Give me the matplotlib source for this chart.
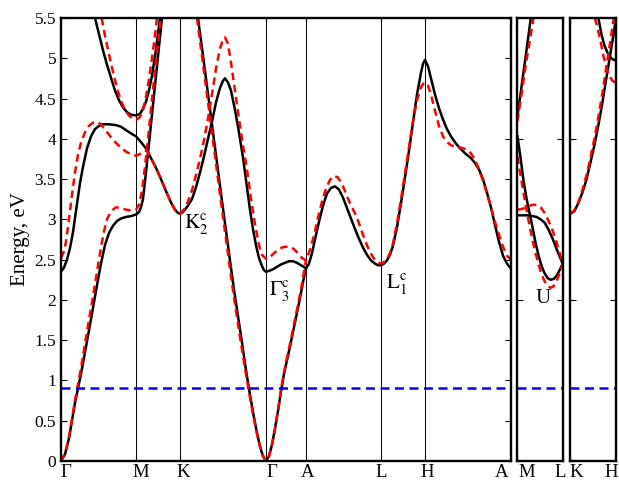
import numpy as np
import matplotlib.pyplot as plt

plt.rcParams['font.family'] = ['Liberation Serif', 'DejaVu Serif']
plt.rcParams['mathtext.fontset'] = 'stix'

# high-symmetry points along the main path (Gamma-M-K-Gamma-A-L-H-A)
sym_k = [0, 75, 119, 205, 245, 320, 364, 450]
sym_labels = ['Γ', 'M', 'K', 'Γ', 'A', 'L', 'H', 'A']
sym_label_k = [5, 80, 122, 211, 247, 320.5, 366, 441]
fermi = 0.9
yticks = [0, 0.5, 1, 1.5, 2, 2.5, 3, 3.5, 4, 4.5, 5, 5.5]
ytick_labels = ['0', '0.5', '1', '1.5', '2', '2.5', '3', '3.5', '4', '4.5', '5', '5.5']

# ---- main panel, black (solid) bands ----
blk_low_k = [0, 4, 8, 11, 14, 17, 20, 24, 28, 32, 36, 40, 44, 48, 52, 56, 60, 65, 70, 75,
             78, 80, 82, 85, 88, 91, 94, 97, 100, 101]
blk_low_e = [0, 0.08, 0.28, 0.5, 0.72, 0.9, 1.08, 1.35, 1.62, 1.9, 2.18, 2.45, 2.68, 2.83, 2.92,
             2.98, 3.01, 3.03, 3.04, 3.06, 3.09, 3.15, 3.25, 3.58, 3.94, 4.3, 4.66, 5.02, 5.38, 5.5]

blk_up_k = [34, 38, 42, 46, 50, 54, 58, 62, 66, 70, 75, 79, 82, 85, 88, 91, 94, 97, 99]
blk_up_e = [5.5, 5.3, 5.1, 4.92, 4.76, 4.6, 4.48, 4.39, 4.33, 4.3, 4.29, 4.31, 4.37, 4.46, 4.6,
            4.78, 5.02, 5.3, 5.5]

blk_mid_k = [0, 3, 6, 9, 12, 15, 19, 22, 26, 30, 34, 38, 42, 48, 55, 60, 66, 71, 75, 80, 85, 90,
             95, 100, 105, 110, 114, 117, 119,
             121, 124, 127, 131, 135, 139, 143, 147, 151, 155, 159, 162, 164, 167, 170, 174, 178,
             182, 186, 189, 192, 195, 198, 201, 203, 205,
             208, 212, 216, 220, 224, 228, 232, 236, 240, 243, 245,
             248, 251, 254, 258, 262, 266, 270, 274, 278, 282, 286, 290, 294, 298, 302, 306, 310,
             314, 317, 320,
             323, 326, 329, 332, 336, 340, 344, 348, 352, 356, 360, 362, 364,
             367, 370, 374, 378, 382, 386, 390, 395, 400, 405, 410, 414, 418, 422, 426, 430, 434,
             438, 442, 446, 450]
blk_mid_e = [2.35, 2.40, 2.50, 2.64, 2.84, 3.1, 3.45, 3.65, 3.88, 4.03, 4.12, 4.16, 4.18, 4.18,
             4.17, 4.15, 4.10, 4.06, 4.03, 3.96, 3.88, 3.76, 3.64, 3.5, 3.35, 3.21, 3.12, 3.08, 3.07,
             3.08, 3.12, 3.17, 3.25, 3.4, 3.58, 3.78, 4.0, 4.21, 4.45, 4.63, 4.72, 4.75, 4.7, 4.6,
             4.36, 4.08, 3.77, 3.4, 3.12, 2.88, 2.68, 2.52, 2.42, 2.37, 2.35,
             2.36, 2.38, 2.41, 2.44, 2.46, 2.48, 2.48, 2.46, 2.43, 2.41, 2.39,
             2.45, 2.58, 2.75, 2.97, 3.17, 3.32, 3.39, 3.41, 3.37, 3.27, 3.14, 3.01, 2.88, 2.76,
             2.65, 2.56, 2.49, 2.45, 2.43, 2.43,
             2.45, 2.49, 2.56, 2.67, 2.9, 3.2, 3.52, 3.85, 4.2, 4.55, 4.82, 4.93, 4.98,
             4.9, 4.75, 4.55, 4.38, 4.24, 4.12, 4.03, 3.94, 3.87, 3.81, 3.76, 3.7, 3.62, 3.5, 3.33,
             3.15, 2.93, 2.72, 2.55, 2.45, 2.39]

blk_steep_k = [137, 141, 145, 149, 153, 157, 161, 165, 169, 173, 177, 181, 185, 189, 193, 196,
               199, 202, 205, 208, 211, 214, 217, 220, 223, 226, 229, 232, 235, 238, 241, 243, 245]
blk_steep_e = [5.5, 5.13, 4.75, 4.37, 3.99, 3.61, 3.23, 2.86, 2.49, 2.13, 1.8, 1.47, 1.13, 0.82,
               0.54, 0.35, 0.18, 0.06, 0.0, 0.06, 0.2, 0.4, 0.62, 0.86, 1.08, 1.25, 1.42, 1.6,
               1.78, 1.96, 2.15, 2.28, 2.39]

# ---- main panel, red (dashed) bands ----
red_low_k = [0, 4, 8, 11, 14, 17, 20, 24, 28, 32, 36, 40, 43, 46, 50, 55, 60, 65, 70, 75, 78, 81,
             84, 87, 90, 93, 96, 99, 100]
red_low_e = [0, 0.09, 0.3, 0.52, 0.75, 0.95, 1.15, 1.45, 1.75, 2.04, 2.35, 2.65, 2.85, 3.0, 3.1,
             3.15, 3.14, 3.12, 3.11, 3.12, 3.18, 3.35, 3.65, 4.0, 4.36, 4.72, 5.08, 5.4, 5.5]

red_up_k = [40.7, 44, 48, 52, 56, 60, 64, 68, 72, 76, 79, 82, 85, 88, 91, 94, 96]
red_up_e = [5.5, 5.28, 5.05, 4.83, 4.63, 4.47, 4.36, 4.29, 4.25, 4.24, 4.27, 4.36, 4.52, 4.74, 5.0,
            5.28, 5.5]

red_mid_k = [0, 3, 5, 8, 11, 14, 17, 20, 24, 28, 32, 36, 40, 45, 50, 55, 60, 65, 70, 75, 79, 83,
             86, 90, 95, 100, 105, 110, 114, 117, 119,
             123, 127, 131, 135, 139, 143, 147, 151, 155, 159, 162, 164, 167, 170, 174, 178, 182,
             186, 190, 194, 198, 201, 205,
             209, 213, 217, 221, 225, 229, 233, 237, 241, 245,
             249, 253, 257, 261, 265, 269, 273, 277, 281, 285, 289, 293, 296, 300, 304, 308, 312,
             316, 320,
             323, 326, 329, 332, 336, 340, 344, 348, 352, 356, 360, 362, 364,
             367, 370, 374, 378, 382, 386, 390, 395, 400, 405, 410, 414, 418, 422, 426, 430, 434,
             438, 442, 446, 450]
red_mid_e = [2.52, 2.6, 2.72, 3.0, 3.3, 3.58, 3.8, 3.95, 4.08, 4.16, 4.2, 4.21, 4.18, 4.1, 4.02,
             3.95, 3.89, 3.84, 3.81, 3.79, 3.81, 3.85, 3.85, 3.76, 3.64, 3.5, 3.35, 3.21, 3.12,
             3.08, 3.07,
             3.12, 3.22, 3.36, 3.55, 3.75, 3.98, 4.25, 4.55, 4.87, 5.12, 5.23, 5.26, 5.18, 4.95,
             4.6, 4.25, 3.92, 3.62, 3.26, 2.94, 2.68, 2.56, 2.51,
             2.53, 2.58, 2.62, 2.65, 2.66, 2.66, 2.63, 2.58, 2.52, 2.49,
             2.62, 2.8, 3.02, 3.22, 3.38, 3.49, 3.54, 3.52, 3.44, 3.32, 3.2, 3.1, 3.02, 2.88, 2.74,
             2.62, 2.53, 2.47, 2.45,
             2.47, 2.51, 2.58, 2.7, 2.95, 3.25, 3.57, 3.9, 4.22, 4.48, 4.64, 4.68, 4.7,
             4.66, 4.55, 4.35, 4.16, 4.03, 3.96, 3.92, 3.9, 3.89, 3.87, 3.82, 3.74, 3.62, 3.48,
             3.32, 3.15, 2.97, 2.81, 2.66, 2.55, 2.5]

red_steep_k = [136, 140, 144, 148, 152, 156, 160, 164, 168, 172, 176, 180, 184, 188, 192, 196,
               199, 202, 205, 208, 211, 214, 217, 220, 223, 226, 229, 232, 235, 238, 241, 243, 245]
red_steep_e = [5.5, 5.12, 4.74, 4.36, 3.98, 3.6, 3.22, 2.85, 2.48, 2.12, 1.78, 1.46, 1.15, 0.86,
               0.58, 0.34, 0.18, 0.06, 0.0, 0.06, 0.2, 0.4, 0.63, 0.88, 1.1, 1.28, 1.45, 1.63,
               1.82, 2.0, 2.2, 2.35, 2.49]

# ---- M-L panel ----
ml_k_a = [0, 3, 6, 9, 12, 13.3]
ml_blk_a = [4.29, 4.55, 4.83, 5.1, 5.38, 5.5]
ml_k_ra = [0, 4, 8, 12, 16]
ml_red_a = [4.22, 4.55, 4.9, 5.2, 5.5]
ml_k = [0, 3, 6, 9, 12, 15, 18, 21, 24, 27, 30, 33, 36, 39, 42, 45]
ml_blk_b = [4.03, 3.77, 3.48, 3.26, 3.08, 2.9, 2.71, 2.55, 2.42, 2.33, 2.27, 2.25, 2.26, 2.3, 2.37, 2.45]
ml_red_b = [3.78, 3.55, 3.33, 3.12, 2.92, 2.74, 2.58, 2.44, 2.32, 2.23, 2.17, 2.15, 2.17, 2.24, 2.33, 2.45]
ml_k2 = [0, 5, 10, 15, 19, 23, 27, 31, 35, 39, 42, 45]
ml_blk_c = [3.05, 3.05, 3.05, 3.04, 3.03, 3.0, 2.96, 2.87, 2.76, 2.63, 2.54, 2.45]
ml_red_c = [3.12, 3.13, 3.16, 3.18, 3.18, 3.15, 3.08, 2.98, 2.86, 2.71, 2.58, 2.47]

# ---- K-H panel ----
kh_k = [0, 4, 8, 12, 16, 20, 24, 28, 32, 36, 40, 44, 45]
kh_blk_a = [3.07, 3.1, 3.2, 3.33, 3.49, 3.7, 3.92, 4.17, 4.45, 4.76, 5.06, 5.37, 5.45]
kh_red_k = [0, 4, 8, 12, 16, 20, 24, 28, 32, 36, 40, 43, 43.3]
kh_red_a = [3.07, 3.11, 3.21, 3.36, 3.54, 3.76, 4.0, 4.27, 4.57, 4.9, 5.22, 5.47, 5.5]
kh_k_b = [28, 31, 34, 37, 40, 43, 45]
kh_blk_b = [5.5, 5.3, 5.16, 5.07, 5.01, 4.98, 4.98]
kh_k_rb = [24.5, 27, 30, 33, 36, 39, 42, 45]
kh_red_b = [5.5, 5.38, 5.22, 5.03, 4.88, 4.78, 4.72, 4.7]

fig = plt.figure(figsize=(6.19, 4.82), dpi=100)
ax = fig.add_axes([0.0985, 0.0436, 0.727, 0.9191])
ax2 = fig.add_axes([0.836, 0.0436, 0.073, 0.9191])
ax3 = fig.add_axes([0.9213, 0.0436, 0.0738, 0.9191])

lw = 1.8
red_kw = dict(color='red', lw=lw, ls=(0, (3.0, 1.9)))
blk_kw = dict(color='black', lw=lw)

for x in sym_k[1:-1]:
    ax.axvline(x, color='black', lw=0.7, zorder=1)

ax.plot(blk_low_k, blk_low_e, **blk_kw)
ax.plot(blk_up_k, blk_up_e, **blk_kw)
ax.plot(blk_mid_k, blk_mid_e, **blk_kw)
ax.plot(blk_steep_k, blk_steep_e, **blk_kw)
ax.plot(red_low_k, red_low_e, **red_kw)
ax.plot(red_up_k, red_up_e, **red_kw)
ax.plot(red_mid_k, red_mid_e, **red_kw)
ax.plot(red_steep_k, red_steep_e, **red_kw)

ax2.plot(ml_k_a, ml_blk_a, **blk_kw)
ax2.plot(ml_k, ml_blk_b, **blk_kw)
ax2.plot(ml_k2, ml_blk_c, **blk_kw)
ax2.plot(ml_k_ra, ml_red_a, **red_kw)
ax2.plot(ml_k, ml_red_b, **red_kw)
ax2.plot(ml_k2, ml_red_c, **red_kw)

ax3.plot(kh_k, kh_blk_a, **blk_kw)
ax3.plot(kh_k_b, kh_blk_b, **blk_kw)
ax3.plot(kh_red_k, kh_red_a, **red_kw)
ax3.plot(kh_k_rb, kh_red_b, **red_kw)

for a in (ax, ax2, ax3):
    a.axhline(fermi, color='blue', lw=lw, ls=(0, (3.6, 2.2)))
    a.set_ylim(0, 5.5)
    for s in a.spines.values():
        s.set_linewidth(1.7)
    a.tick_params(direction='in', top=True, right=True, length=4, width=0.8, labelsize=12.5)
    a.set_xticklabels([])

ax.set_xlim(0, 450)
ax.set_xticks(sym_k)
ax.set_yticks(yticks)
ax.set_yticklabels(ytick_labels)
ax.set_ylabel('Energy, eV', fontsize=15, labelpad=3)

ax2.set_xlim(0, 45)
ax2.set_xticks([0, 45])
ax2.set_yticks([0, 2, 4])
ax2.set_yticklabels([])
ax3.set_xlim(0, 45.5)
ax3.set_xticks([0, 45.5])
ax3.set_yticks([0, 2, 4])
ax3.set_yticklabels([])

lab_y = -0.036
lab_fs = 13.5
for k, s in zip(sym_label_k, sym_labels):
    ax.text(k, lab_y, s, transform=ax.get_xaxis_transform(), ha='center', va='baseline', fontsize=lab_fs)
for k, s in zip([9, 42.5], ['M', 'L']):
    ax2.text(k, lab_y, s, transform=ax2.get_xaxis_transform(), ha='center', va='baseline', fontsize=lab_fs)
for k, s in zip([5.7, 40.5], ['K', 'H']):
    ax3.text(k, lab_y, s, transform=ax3.get_xaxis_transform(), ha='center', va='baseline', fontsize=lab_fs)

ax.text(123, 2.95, r'$\mathrm{K_2^c}$', fontsize=15, ha='left', va='center')
ax.text(208, 2.12, r'$\mathrm{\Gamma_3^c}$', fontsize=15, ha='left', va='center')
ax.text(325, 2.2, r'$\mathrm{L_1^c}$', fontsize=15, ha='left', va='center')
ax2.text(26, 2.02, 'U', fontsize=15, ha='center', va='center')

fig.savefig('out.png', dpi=100)
